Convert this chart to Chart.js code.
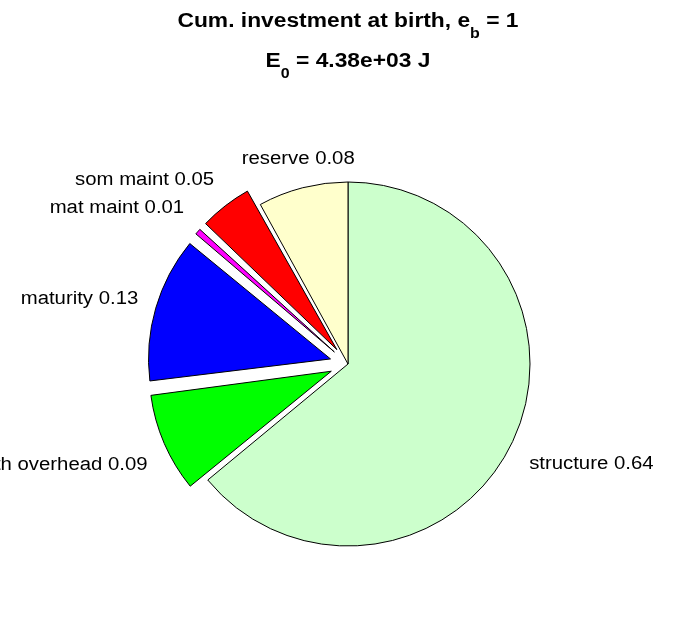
<!DOCTYPE html>
<html>
<head>
<meta charset="utf-8">
<script src="https://cdn.jsdelivr.net/npm/chart.js@4/dist/chart.umd.min.js"></script>
<style>
html,body{margin:0;padding:0;background:#fff;overflow:hidden}
#wrap{position:relative;width:696px;height:618px}
</style>
</head>
<body>
<div id="wrap"><canvas id="c" width="696" height="618"></canvas></div>
<script>
// ---- data ----
const categories = ['structure', 'growth overhead', 'maturity', 'mat maint', 'som maint', 'reserve'];
const fractions  = [0.64, 0.09, 0.13, 0.01, 0.05, 0.08];
const exploded   = [false, true, true, true, true, false];
const sliceColors = ['#CCFFCC', '#00FF00', '#0000FF', '#FF00FF', '#FF0000', '#FFFFCC'];
const titleLine1 = [['Cum. investment at birth, e', false], ['b', true], [' = 1', false]];
const titleLine2 = [['E', false], ['0', true], [' = 4.38e+03 J', false]];

// ---- style ----
const PIE_RADIUS = 182;
const EXPLODE_PX = 0.1 * PIE_RADIUS;   // MATLAB explodes by 0.1 radius
const LABEL_FONT = '18px "Liberation Sans", Arial, sans-serif';
const LABEL_STRETCH = 1.13;
const TITLE_STRETCH = 1.14;

function drawRich(ctx, parts, cx, baseline, size, subSize, subDrop, stretch) {
  ctx.save();
  const fontFor = sub => `bold ${sub ? subSize : size}px "Liberation Sans", Arial, sans-serif`;
  const widths = parts.map(([t, sub]) => { ctx.font = fontFor(sub); return ctx.measureText(t).width; });
  const total = widths.reduce((a, b) => a + b, 0) * stretch;
  ctx.translate(cx - total / 2, baseline);
  ctx.scale(stretch, 1);
  ctx.fillStyle = '#000';
  ctx.textAlign = 'left';
  ctx.textBaseline = 'alphabetic';
  let x = 0;
  parts.forEach(([t, sub], i) => {
    ctx.font = fontFor(sub);
    ctx.fillText(t, x, sub ? subDrop : 0);
    x += widths[i];
  });
  ctx.restore();
}

// keep exploded slices at the same radius as the others (Chart.js grows offset slices)
const radiusFixPlugin = {
  id: 'radiusFix',
  beforeDatasetsDraw(chart) {
    const meta = chart.getDatasetMeta(0);
    meta.data.forEach(arc => {
      const off = (arc.options.offset || 0) / 4;
      const circ = arc.endAngle - arc.startAngle;
      const fix = 1 - Math.sin(Math.min(Math.PI, circ || 0));
      arc.outerRadius = PIE_RADIUS - off * fix;
    });
  }
};

const titlePlugin = {
  id: 'richTitle',
  afterDraw(chart) {
    const ctx = chart.ctx;
    const cx = (chart.chartArea.left + chart.chartArea.right) / 2;
    drawRich(ctx, titleLine1, cx, 27, 20, 14, 10.5, TITLE_STRETCH);
    drawRich(ctx, titleLine2, cx, 67, 20, 14, 10.5, TITLE_STRETCH);
  }
};

const labelPlugin = {
  id: 'pieLabels',
  afterDatasetsDraw(chart) {
    const ctx = chart.ctx;
    const meta = chart.getDatasetMeta(0);
    ctx.save();
    ctx.font = LABEL_FONT;
    ctx.fillStyle = '#000';
    ctx.textAlign = 'left';
    ctx.textBaseline = 'alphabetic';
    meta.data.forEach((arc, i) => {
      const off = (arc.options.offset || 0) / 4;
      const mid = (arc.startAngle + arc.endAngle) / 2;
      const dx = Math.cos(mid), dy = Math.sin(mid);
      const r = PIE_RADIUS * 1.1 + off;
      const ax = arc.x + dx * r, ay = arc.y + dy * r;
      const text = categories[i] + ' ' + fractions[i].toFixed(2);
      const w = ctx.measureText(text).width * LABEL_STRETCH;
      const s = Math.sign(dx) * Math.min(1, Math.max(0, (Math.abs(dx) - 0.25) / 0.3));
      const left = ax - w * (1 - s) / 2;
      const v = Math.sign(dy) * Math.min(1, Math.max(0, (Math.abs(dy) - 0.2) / 0.2));
      const cy = ay + v * 13;
      ctx.save();
      ctx.translate(left, cy + 6.5);
      ctx.scale(LABEL_STRETCH, 1);
      ctx.fillText(text, 0, 0);
      ctx.restore();
    });
    ctx.restore();
  }
};

new Chart(document.getElementById('c'), {
  type: 'pie',
  data: {
    labels: categories,
    datasets: [{
      data: fractions,
      backgroundColor: sliceColors,
      borderColor: '#000000',
      borderWidth: 1,
      borderJoinStyle: 'miter',
      offset: exploded.map(e => e ? EXPLODE_PX * 4 : 0)
    }]
  },
  options: {
    responsive: false,
    animation: false,
    events: [],
    radius: PIE_RADIUS,
    rotation: 0,
    layout: { padding: { top: 110, bottom: 0, left: 0, right: 0 } },
    plugins: {
      legend: { display: false },
      title: { display: false },
      tooltip: { enabled: false }
    }
  },
  plugins: [radiusFixPlugin, labelPlugin, titlePlugin]
});
</script>
</body>
</html>
